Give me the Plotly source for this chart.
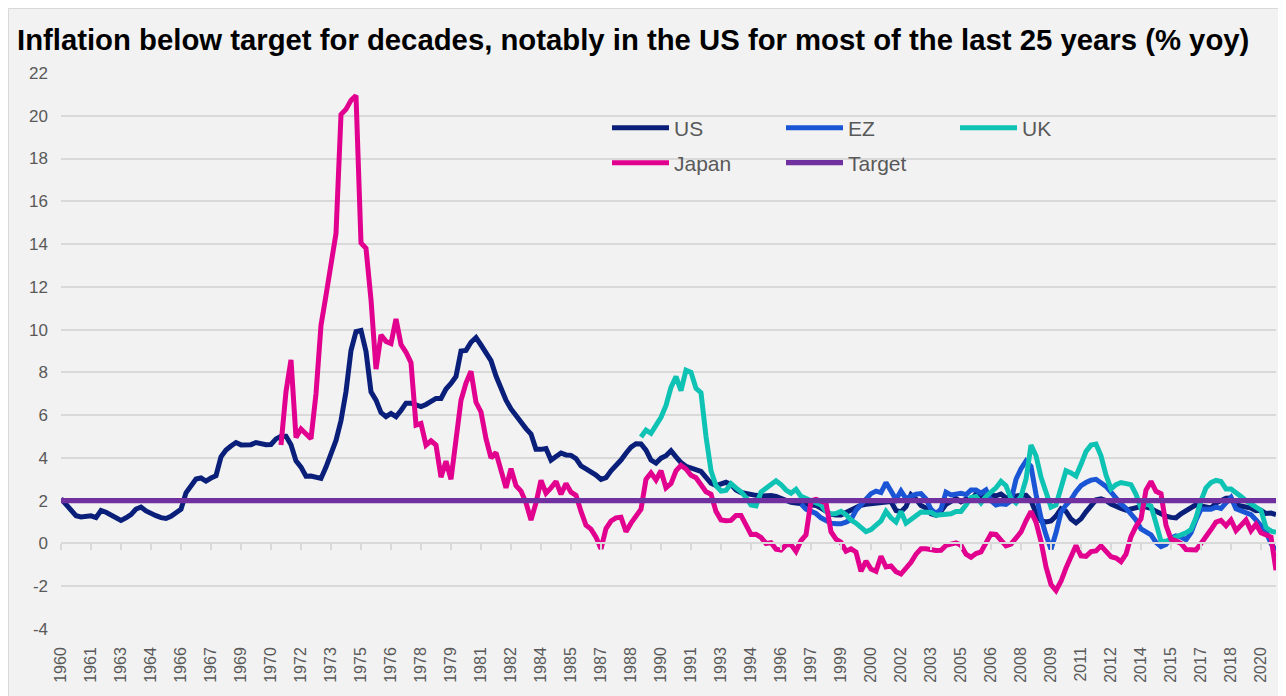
import plotly.graph_objects as go

# ---------------- data (quarterly, % yoy) ----------------
quarters = [f"{1960 + q // 4} Q{q % 4 + 1}" for q in range(244)]  # 1960 Q1 .. 2020 Q4

tick_labels = ["1960", "1961", "1963", "1964", "1966", "1967", "1969", "1970", "1972", "1973",
               "1975", "1976", "1978", "1979", "1981", "1982", "1984", "1985", "1987", "1988",
               "1990", "1991", "1993", "1994", "1996", "1997", "1999", "2000", "2002", "2003",
               "2005", "2006", "2008", "2009", "2011", "2012", "2014", "2015", "2017", "2018",
               "2020"]
tick_every = 6

y_tick_values = [-4, -2, 0, 2, 4, 6, 8, 10, 12, 14, 16, 18, 20, 22]
y_tick_labels = ["-4", "-2", "0", "2", "4", "6", "8", "10", "12", "14", "16", "18", "20", "22"]

us = [2.09, 1.82, 1.55, 1.30, 1.24, 1.27, 1.29, 1.21, 1.54, 1.46,
      1.33, 1.19, 1.08, 1.20, 1.35, 1.61, 1.70, 1.52, 1.39, 1.30,
      1.21, 1.17, 1.27, 1.44, 1.60, 2.37, 2.68, 3.01, 3.06, 2.92,
      3.06, 3.17, 4.05, 4.37, 4.56, 4.72, 4.61, 4.59, 4.62, 4.72,
      4.67, 4.62, 4.63, 4.89, 5.01, 5.01, 4.62, 3.86, 3.57, 3.14,
      3.15, 3.12, 3.04, 3.57, 4.15, 4.82, 5.75, 7.10, 9.02, 9.91,
      9.96, 8.98, 7.09, 6.70, 6.12, 5.93, 6.08, 5.93, 6.22, 6.56,
      6.56, 6.49, 6.40, 6.50, 6.66, 6.78, 6.78, 7.22, 7.48, 7.81,
      9.00, 9.03, 9.41, 9.63, 9.28, 8.90, 8.55, 7.83, 7.18, 6.70,
      6.29, 5.97, 5.70, 5.37, 5.12, 4.40, 4.40, 4.44, 3.90, 4.10,
      4.23, 4.14, 4.12, 3.97, 3.63, 3.49, 3.35, 3.20, 3.00, 3.08,
      3.40, 3.62, 3.90, 4.22, 4.50, 4.66, 4.65, 4.36, 3.90, 3.76,
      3.99, 4.10, 4.34, 4.05, 3.78, 3.61, 3.53, 3.50, 3.37, 3.09,
      2.82, 2.71, 2.81, 2.86, 2.75, 2.50, 2.38, 2.32, 2.28, 2.25,
      2.22, 2.24, 2.24, 2.20, 2.11, 1.97, 1.92, 1.89, 1.86, 1.83,
      1.81, 1.78, 1.65, 1.50, 1.36, 1.33, 1.33, 1.45, 1.57, 1.68,
      1.79, 1.83, 1.86, 1.86, 1.87, 1.95, 1.96, 1.54, 1.48, 1.72,
      2.28, 2.07, 1.77, 1.66, 1.39, 1.32, 1.51, 1.83, 2.00, 2.10,
      1.95, 2.07, 2.04, 2.31, 2.17, 2.36, 2.26, 2.23, 2.31, 2.13,
      2.19, 2.25, 2.25, 2.25, 2.00, 1.42, 1.06, 1.01, 1.05, 1.28,
      1.62, 1.50, 1.14, 0.96, 1.15, 1.48, 1.81, 2.04, 2.09, 2.01,
      1.84, 1.72, 1.64, 1.56, 1.60, 1.67, 1.73, 1.70, 1.64, 1.50,
      1.38, 1.28, 1.22, 1.20, 1.39, 1.53, 1.65, 1.81, 1.75, 1.68,
      1.66, 1.89, 2.03, 2.11, 2.12, 1.83, 1.75, 1.71, 1.65, 1.53,
      1.55, 1.40, 1.42, 1.35]

ez_start = "1997 Q1"
ez = [1.85, 1.60, 1.50, 1.40, 1.20, 1.05, 0.95, 0.92, 0.92, 1.00,
      1.12, 1.55, 1.83, 2.10, 2.33, 2.45, 2.38, 2.85, 2.45, 2.05,
      2.45, 2.10, 2.20, 2.30, 2.33, 2.08, 1.60, 1.40, 1.60, 2.40,
      2.27, 2.30, 2.35, 2.28, 2.50, 2.50, 2.35, 2.50, 2.00, 1.80,
      1.86, 1.83, 2.00, 3.00, 3.50, 3.85, 3.60, 2.30, 1.20, 0.40,
      -0.27, 0.50, 1.45, 1.80, 2.05, 2.42, 2.70, 2.85, 2.96, 3.00,
      2.85, 2.67, 2.40, 2.10, 1.85, 1.65, 1.40, 1.10, 0.68, 0.52,
      0.40, 0.05, -0.15, -0.05, 0.25, 0.35, 0.30, 0.17, 0.50, 1.10,
      1.60, 1.60, 1.60, 1.70, 1.64, 1.90, 2.15, 1.62, 1.55, 1.48,
      1.35, 1.10, 0.80, 0.55, 0.00, -0.33]

uk_start = "1989 Q1"
uk = [4.98, 5.30, 5.15, 5.50, 5.90, 6.45, 7.30, 7.80, 7.15, 8.10,
      8.00, 7.25, 7.05, 5.00, 3.40, 2.70, 2.45, 2.48, 2.80, 2.60,
      2.42, 2.15, 1.80, 1.76, 2.40, 2.58, 2.75, 2.93, 2.75, 2.50,
      2.35, 2.53, 2.20, 2.10, 2.00, 1.90, 1.80, 1.50, 1.38, 1.40,
      1.50, 1.35, 1.10, 0.95, 0.75, 0.55, 0.65, 0.85, 1.05, 1.50,
      1.20, 1.00, 1.50, 0.95, 1.10, 1.30, 1.47, 1.47, 1.45, 1.32,
      1.35, 1.38, 1.39, 1.50, 1.50, 1.80, 2.15, 2.20, 1.90, 2.20,
      2.40, 2.60, 2.90, 2.70, 2.10, 1.90, 2.20, 3.00, 4.60, 4.10,
      3.10, 2.30, 1.70, 1.80, 2.70, 3.40, 3.30, 3.15, 3.70, 4.30,
      4.60, 4.65, 4.10, 3.20, 2.55, 2.75, 2.85, 2.82, 2.75, 2.30,
      1.65, 1.85, 1.75, 0.95, 0.10, 0.10, 0.20, 0.30, 0.37, 0.50,
      0.65, 1.20, 2.00, 2.60, 2.85, 2.95, 2.90, 2.55, 2.55, 2.40,
      2.20, 2.00, 1.85, 1.74, 1.55, 0.75, 0.58, 0.52]

japan_start = "1971 Q1"
japan = [4.60, 7.10, 8.58, 4.95, 5.35, 5.15, 4.90, 7.00, 10.20, 11.60,
         13.10, 14.50, 20.06, 20.30, 20.72, 20.94, 14.05, 13.80, 11.40, 8.15,
         9.75, 9.45, 9.35, 10.50, 9.30, 8.94, 8.45, 5.53, 5.61, 4.60,
         4.80, 4.60, 3.10, 3.85, 3.00, 4.80, 6.70, 7.50, 8.05, 6.60,
         6.15, 4.90, 4.00, 4.25, 3.40, 2.60, 3.50, 2.70, 2.45, 1.90,
         1.10, 1.90, 2.95, 2.35, 2.60, 2.90, 2.30, 2.80, 2.40, 2.25,
         1.50, 0.85, 0.67, 0.30, -0.25, 0.70, 1.05, 1.20, 1.23, 0.55,
         0.95, 1.28, 1.60, 3.00, 3.30, 2.97, 3.40, 2.60, 2.80, 3.40,
         3.65, 3.48, 3.19, 3.07, 2.75, 2.42, 2.30, 1.50, 1.10, 1.06,
         1.08, 1.31, 1.31, 0.90, 0.42, 0.43, 0.28, 0.00, 0.04, -0.27,
         -0.31, -0.07, -0.05, -0.37, 0.13, 0.40, 2.00, 2.06, 1.95, 1.90,
         0.55, 0.20, 0.05, -0.36, -0.25, -0.40, -1.30, -0.83, -1.20, -1.30,
         -0.60, -1.10, -1.05, -1.32, -1.43, -1.17, -0.88, -0.50, -0.25, -0.25,
         -0.30, -0.33, -0.32, -0.09, -0.03, 0.03, -0.08, -0.50, -0.64, -0.47,
         -0.40, 0.00, 0.45, 0.42, 0.18, -0.11, -0.03, 0.24, 0.54, 1.06,
         1.50, 1.00, 0.10, -1.10, -1.92, -2.20, -1.77, -1.15, -0.65, -0.10,
         -0.58, -0.60, -0.38, -0.35, -0.11, -0.40, -0.62, -0.68, -0.85, -0.50,
         0.32, 0.80, 1.15, 2.50, 2.90, 2.44, 2.33, 0.85, 0.20, 0.12,
         0.00, -0.28, -0.30, -0.30, 0.00, 0.30, 0.65, 1.00, 1.08, 0.83,
         1.10, 0.60, 0.82, 1.10, 0.60, 0.90, 0.50, 0.40, 0.30, -1.25]

target = [2.0] * len(quarters)

# ---------------- styling ----------------
C_US, C_EZ, C_UK, C_JP, C_TG = "#0a1f7a", "#1a55d6", "#0ec3b4", "#e2008f", "#7030a0"
GRID = "#d9d9d9"
TXT = "#595959"
FONT = "Liberation Sans"
LW = 5


def xs(start):
    i = quarters.index(start)
    return quarters[i:]


fig = go.Figure()
fig.add_trace(go.Scatter(x=quarters, y=us, name="US", mode="lines",
                         line=dict(color=C_US, width=LW), legend="legend"))
fig.add_trace(go.Scatter(x=xs(ez_start), y=ez, name="EZ", mode="lines",
                         line=dict(color=C_EZ, width=LW), legend="legend"))
fig.add_trace(go.Scatter(x=xs(uk_start), y=uk, name="UK", mode="lines",
                         line=dict(color=C_UK, width=LW), legend="legend"))
fig.add_trace(go.Scatter(x=xs(japan_start), y=japan, name="Japan", mode="lines",
                         line=dict(color=C_JP, width=LW), legend="legend2"))
fig.add_trace(go.Scatter(x=quarters, y=target, name="Target", mode="lines",
                         line=dict(color=C_TG, width=5.2), legend="legend2"))
# helper trace for the axis drawn at y = 0 (tick marks)
fig.add_trace(go.Scatter(x=quarters, y=[None] * len(quarters), xaxis="x2",
                         mode="lines", showlegend=False, hoverinfo="skip"))

tickvals = quarters[::tick_every]

# the page body adds an 8px white margin at the top/left
W, H = 1278, 688
ML, MR, MT, MB = 53, 10, 65, 67
pw, ph = W - ML - MR, H - MT - MB
ymin, ymax = -4, 22

fig.update_layout(
    width=W, height=H,
    margin=dict(l=ML, r=MR, t=MT, b=MB, autoexpand=False),
    paper_bgcolor="#f2f2f2",
    plot_bgcolor="rgba(0,0,0,0)",
    font=dict(family=FONT, color=TXT, size=16),
    title=dict(text="<b>Inflation below target for decades, notably in the US for most of the last 25 years (% yoy)</b>",
               xref="container", yref="container", x=9 / W, y=1 - 32 / H,
               xanchor="left", yanchor="middle",
               font=dict(family=FONT, size=29.3, color="black")),
    xaxis=dict(type="category", categoryorder="array", categoryarray=quarters,
               range=[0, len(quarters) - 1], automargin=False,
               tickmode="array", tickvals=tickvals, ticktext=tick_labels,
               tickangle=-90, ticks="", showgrid=False, zeroline=False, showline=False,
               tickfont=dict(size=16, color=TXT), ticklabelstandoff=14),
    xaxis2=dict(type="category", categoryorder="array", categoryarray=quarters,
                matches="x", overlaying="x", anchor="free",
                position=(0 - ymin) / (ymax - ymin),
                tickmode="array", tickvals=tickvals, showticklabels=False,
                ticks="outside", ticklen=6, tickwidth=2, tickcolor=GRID,
                showline=True, linecolor=GRID, linewidth=2, showgrid=False, zeroline=False),
    yaxis=dict(range=[ymin, ymax], tickmode="array", tickvals=y_tick_values,
               ticktext=y_tick_labels, showgrid=True, gridcolor=GRID,
               gridwidth=2, zeroline=False, showline=False, ticks="", automargin=False,
               tickfont=dict(size=17, color=TXT), ticklabelstandoff=12),
    legend=dict(orientation="h", xref="container", yref="container",
                x=599 / W, y=1 - 120 / H, xanchor="left", yanchor="middle",
                entrywidth=102, entrywidthmode="pixels", itemwidth=57,
                font=dict(size=21, color=TXT, family=FONT), bgcolor="rgba(0,0,0,0)"),
    legend2=dict(orientation="h", xref="container", yref="container",
                 x=599 / W, y=1 - 155 / H, xanchor="left", yanchor="middle",
                 entrywidth=102, entrywidthmode="pixels", itemwidth=57,
                 font=dict(size=21, color=TXT, family=FONT), bgcolor="rgba(0,0,0,0)"),
    shapes=[dict(type="rect", xref="paper", yref="paper", layer="below",
                 x0=(0.5 - ML) / pw, x1=(W + 5 - ML) / pw,
                 y0=-(MB + 5) / ph, y1=1 + (MT - 0.5) / ph,
                 fillcolor="rgba(0,0,0,0)", line=dict(color=GRID, width=1))],
    showlegend=True,
)

fig.write_html("out.html")
